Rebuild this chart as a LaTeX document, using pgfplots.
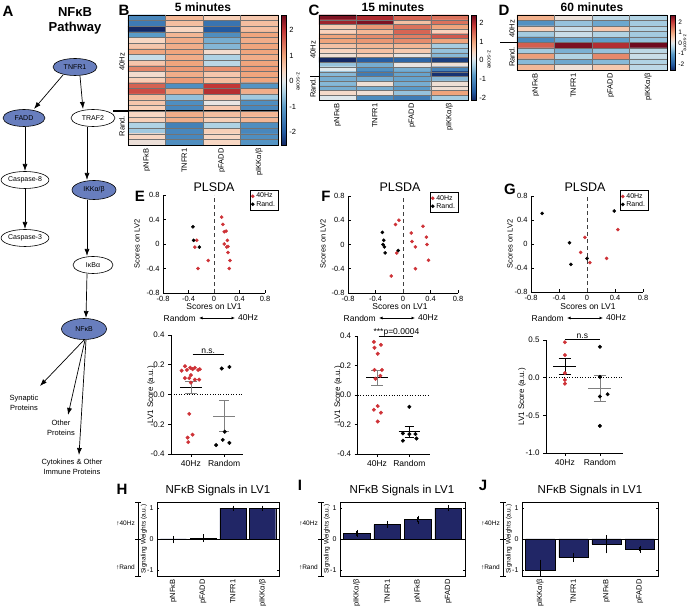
\documentclass[border=0pt]{standalone}
\usepackage{pgfplots}
\pgfplotsset{compat=1.18}
\usepackage{fontspec}
\setmainfont{Liberation Sans}
\usetikzlibrary{shapes.geometric,arrows.meta}
\definecolor{nodeblue}{RGB}{104,126,190}
\definecolor{barnavy}{RGB}{33,38,102}
\definecolor{ptred}{RGB}{206,50,55}
\newcommand{\fs}[1]{\fontsize{#1}{#1}\selectfont}
\pgfplotsset{
  colormap={rdbu}{[1cm] rgb255(0cm)=(20,40,100) rgb255(5cm)=(35,90,160) rgb255(15cm)=(90,155,200) rgb255(21cm)=(175,210,228) rgb255(25cm)=(225,232,236) rgb255(29cm)=(248,215,195) rgb255(35cm)=(240,165,125) rgb255(45cm)=(195,55,55) rgb255(51cm)=(110,10,30)},
  every axis/.append style={scale only axis, /pgf/number format/assume math mode=true, tick label style={font=\fs{7.5}}},
  heat/.style={xmin=-0.5, xmax=3.5, y dir=reverse, axis on top, clip=false,
    axis line style={line width=0.9pt},
    xtick={0,1,2,3}, xticklabels={pNFκB,TNFR1,pFADD,pIKKα/β},
    xticklabel style={rotate=90, anchor=east, font=\fs{7.5}},
    xtick style={draw=none}, ytick style={draw=none}, yticklabel=\empty,
    ymajorgrids, extra x ticks={0.5,1.5,2.5}, extra x tick labels={},
    extra x tick style={grid=major, tick style={draw=none}},
    grid style={black!55, line width=0.3pt},
    colorbar,
    colorbar style={width=4.5pt, xshift=-6pt,
      ytick={-2,-1,0,1,2}, yticklabel style={font=\fs{7.5}}, ytick style={draw=none},
      axis line style={line width=0.4pt}}},
  pls/.style={xmin=-0.8, xmax=0.8, ymin=-0.8, ymax=0.8, axis x line*=bottom, axis y line*=left,
    axis line style={-, line width=0.6pt}, tick align=inside, major tick length=2.5pt, tick style={black, line width=0.5pt},
    xtick={-0.8,-0.4,0,0.4,0.8}, ytick={-0.8,-0.4,0,0.4,0.8}, clip=false,
    legend style={font=\fs{7}, inner sep=0.8pt, row sep=-2.5pt, draw=black, line width=0.4pt, legend cell align=left}},
  dotax/.style={axis x line*=bottom, axis y line*=left, tick align=outside, major tick length=3pt,
    axis line style={-, line width=0.9pt}, tick style={black, line width=0.8pt},
    xtick={0,1}, xticklabels={40Hz,Random}, xticklabel style={font=\fs{8.5}}, yticklabel style={font=\fs{8}},
    /pgf/number format/fixed, /pgf/number format/fixed zerofill, /pgf/number format/precision=1, clip=false},
  barax/.style={ymin=-1.2, ymax=1.2, xmin=-0.55, xmax=3.55, ytick={-1,0,1}, xtick={0,1,2,3},
    xticklabel style={rotate=90, anchor=east, font=\fs{7.5}}, yticklabel style={font=\fs{7}},
    xtick style={draw=none}, tick align=inside, major tick length=2pt, ytick style={black, line width=0.5pt},
    axis line style={line width=0.9pt}, bar width=0.88, height=74pt},
}
\begin{document}
\begin{tikzpicture}
\useasboundingbox (0,0) rectangle (688pt,610pt);

% ---------------- B heatmap (5 minutes)
\begin{axis}[heat, at={(128pt,465pt)}, anchor=south west, width=150pt, height=130pt,
  ymin=-0.5, ymax=22.5, ytick={0.5,1.5,...,21.5}, point meta min=-2.5, point meta max=2.6]
\addplot[matrix plot, mesh/cols=4, point meta=explicit] table[meta=c, row sep=\\] {
x y c\\
0 0 -1.3\\1 0 0.8\\2 0 0.5\\3 0 0.6\\
0 1 -1.5\\1 1 0.7\\2 1 -1.6\\3 1 0.7\\
0 2 -2.5\\1 2 0.4\\2 2 -2.0\\3 2 0.7\\
0 3 -1.0\\1 3 0.8\\2 3 -1.2\\3 3 1.0\\
0 4 0.4\\1 4 0.9\\2 4 -0.8\\3 4 0.9\\
0 5 0.6\\1 5 0.9\\2 5 -0.7\\3 5 1.0\\
0 6 1.0\\1 6 1.0\\2 6 0.3\\3 6 1.0\\
0 7 -0.2\\1 7 0.9\\2 7 -0.4\\3 7 0.9\\
0 8 0.6\\1 8 1.0\\2 8 -0.3\\3 8 1.0\\
0 9 1.3\\1 9 1.1\\2 9 1.2\\3 9 1.1\\
0 10 0.3\\1 10 0.9\\2 10 0.6\\3 10 1.0\\
0 11 0.5\\1 11 1.1\\2 11 0.7\\3 11 1.0\\
0 12 1.6\\1 12 -1.2\\2 12 2.0\\3 12 -1.1\\
0 13 1.8\\1 13 1.0\\2 13 2.1\\3 13 0.9\\
0 14 0.7\\1 14 -0.6\\2 14 0.6\\3 14 -0.5\\
0 15 0.6\\1 15 -1.2\\2 15 0.1\\3 15 -1.2\\
0 16 0.5\\1 16 -1.3\\2 16 0.6\\3 16 -1.3\\
0 17 0.4\\1 17 0.9\\2 17 0.7\\3 17 0.8\\
0 18 0.5\\1 18 0.9\\2 18 0.5\\3 18 0.8\\
0 19 -0.4\\1 19 -1.4\\2 19 -0.4\\3 19 -1.2\\
0 20 -0.5\\1 20 -1.3\\2 20 0.5\\3 20 -1.3\\
0 21 0.4\\1 21 -1.3\\2 21 0.4\\3 21 -1.2\\
0 22 0.2\\1 22 -1.2\\2 22 0.4\\3 22 -1.1\\
};
\draw[line width=1.6pt] (axis cs:-0.9,16.5) -- (axis cs:3.5,16.5);
\end{axis}

% ---------------- C heatmap (15 minutes)
\begin{axis}[heat, at={(319pt,510pt)}, anchor=south west, width=149pt, height=85pt,
  ymin=-0.5, ymax=17.5, ytick={0.5,1.5,...,16.5}, point meta min=-2.1, point meta max=2.4]
\addplot[matrix plot, mesh/cols=4, point meta=explicit] table[meta=c, row sep=\\] {
x y c\\
0 0 2.3\\1 0 2.0\\2 0 1.5\\3 0 1.4\\
0 1 2.1\\1 1 2.3\\2 1 0.7\\3 1 1.4\\
0 2 0.6\\1 2 1.1\\2 2 1.4\\3 2 1.0\\
0 3 0.5\\1 3 0.8\\2 3 1.5\\3 3 0.5\\
0 4 1.0\\1 4 1.2\\2 4 1.3\\3 4 1.6\\
0 5 1.0\\1 5 1.1\\2 5 1.2\\3 5 1.0\\
0 6 0.7\\1 6 0.8\\2 6 0.8\\3 6 -0.3\\
0 7 0.5\\1 7 0.7\\2 7 0.6\\3 7 -0.4\\
0 8 0.3\\1 8 0.5\\2 8 0.2\\3 8 -0.5\\
0 9 -2.2\\1 9 -1.6\\2 9 -1.5\\3 9 -1.9\\
0 10 -0.4\\1 10 -0.6\\2 10 0.2\\3 10 0.3\\
0 11 0.1\\1 11 -0.9\\2 11 -0.6\\3 11 -1.1\\
0 12 -0.5\\1 12 -1.2\\2 12 -0.7\\3 12 -2.0\\
0 13 -0.6\\1 13 -0.6\\2 13 -0.7\\3 13 -0.5\\
0 14 -0.5\\1 14 0.3\\2 14 -0.6\\3 14 0.3\\
0 15 -0.6\\1 15 -0.6\\2 15 -0.8\\3 15 0.3\\
0 16 0.4\\1 16 0.3\\2 16 -0.4\\3 16 1.0\\
0 17 0.1\\1 17 -1.0\\2 17 -1.2\\3 17 -0.3\\
};
\draw[line width=1.6pt] (axis cs:-0.74,12.5) -- (axis cs:3.5,12.5);
\end{axis}

% ---------------- D heatmap (60 minutes)
\begin{axis}[heat, at={(517pt,540pt)}, anchor=south west, width=150pt, height=55pt,
  ymin=-0.5, ymax=9.5, ytick={0.5,1.5,...,8.5}, point meta min=-2.6, point meta max=2.7,
  colorbar style={yticklabel style={font=\fs{6.5}}}]
\addplot[matrix plot, mesh/cols=4, point meta=explicit] table[meta=c, row sep=\\] {
x y c\\
0 0 0.9\\1 0 0.2\\2 0 -0.3\\3 0 -0.4\\
0 1 -1.2\\1 1 -0.6\\2 1 -0.9\\3 1 -0.5\\
0 2 0.5\\1 2 -0.2\\2 2 0.6\\3 2 -0.4\\
0 3 -0.5\\1 3 -0.2\\2 3 -0.4\\3 3 -0.5\\
0 4 -1.3\\1 4 -0.9\\2 4 -1.0\\3 4 -0.6\\
0 5 1.7\\1 5 2.6\\2 5 2.2\\3 5 2.7\\
0 6 -0.5\\1 6 -0.8\\2 6 -0.6\\3 6 -0.3\\
0 7 1.1\\1 7 -0.4\\2 7 1.3\\3 7 -0.2\\
0 8 -0.7\\1 8 -0.9\\2 8 -0.7\\3 8 -0.4\\
0 9 0.8\\1 9 0.2\\2 9 0.6\\3 9 -0.3\\
};
\draw[line width=1.6pt] (axis cs:-0.95,4.5) -- (axis cs:3.5,4.5);
\end{axis}

% ---------------- E scatter
\begin{axis}[pls, at={(163pt,317pt)}, anchor=south west, width=102pt, height=98pt,
  legend style={at={(1.127,1.05)}, anchor=north east},
  legend image code/.code={\draw[mark repeat=2,mark phase=2,#1] plot coordinates {(0cm,0cm)(0.09cm,0cm)(0.18cm,0cm)};}]
\addplot[ptred, only marks, mark=*, mark size=1.6pt] coordinates {(0.12,0.44)(0.14,0.32)(0.16,0.20)(0.19,0.21)(0.21,0.06)(0.16,0.0)(0.22,-0.04)(0.22,-0.14)(0.25,-0.27)(0.24,-0.40)(-0.09,-0.27)(-0.25,-0.40)(-0.27,0.06)(-0.30,-0.05)(0.2,-0.05)};
\addlegendentry{40Hz}
\addplot[black, only marks, mark=*, mark size=1.6pt] coordinates {(-0.33,0.28)(-0.32,0.06)(-0.23,-0.05)};
\addlegendentry{Rand.}
\addplot[black!75, line width=0.9pt, dash pattern=on 4pt off 3pt, forget plot] coordinates {(0,-0.8)(0,0.8)};
\end{axis}

% ---------------- F scatter
\begin{axis}[pls, at={(348pt,317pt)}, anchor=south west, width=110pt, height=97pt,
  legend style={at={(1.0,1.04)}, anchor=north east},
  legend image code/.code={\draw[mark repeat=2,mark phase=2,#1] plot coordinates {(0cm,0cm)(0.09cm,0cm)(0.18cm,0cm)};}]
\addplot[ptred, only marks, mark=*, mark size=1.6pt] coordinates {(-0.06,0.40)(-0.11,0.33)(0.29,0.30)(0.12,0.19)(0.34,0.12)(0.13,0.05)(0.18,-0.04)(0.35,0.0)(-0.09,-0.14)(0.37,-0.26)(0.18,-0.40)(-0.17,-0.52)};
\addlegendentry{40Hz}
\addplot[black, only marks, mark=*, mark size=1.6pt] coordinates {(-0.30,0.20)(-0.28,0.07)(-0.29,0.0)(-0.27,-0.04)(-0.26,-0.14)(-0.07,-0.10)};
\addlegendentry{Rand.}
\addplot[black!75, line width=0.9pt, dash pattern=on 4pt off 3pt, forget plot] coordinates {(0,-0.8)(0,0.8)};
\end{axis}

% ---------------- G scatter
\begin{axis}[pls, at={(531pt,318pt)}, anchor=south west, width=112pt, height=96pt,
  legend style={at={(1.045,1.06)}, anchor=north east},
  legend image code/.code={\draw[mark repeat=2,mark phase=2,#1] plot coordinates {(0cm,0cm)(0.09cm,0cm)(0.18cm,0cm)};}]
\addplot[ptred, only marks, mark=*, mark size=1.6pt] coordinates {(-0.03,0.11)(0.44,0.24)(-0.09,-0.14)(0.04,-0.31)(0.28,-0.24)};
\addlegendentry{40Hz}
\addplot[black, only marks, mark=*, mark size=1.6pt] coordinates {(-0.64,0.51)(0.39,0.55)(-0.25,0.02)(0.0,-0.24)(-0.23,-0.34)};
\addlegendentry{Rand.}
\addplot[black!75, line width=0.9pt, dash pattern=on 4pt off 3pt, forget plot] coordinates {(0,-0.8)(0,0.8)};
\end{axis}

% ---------------- E dot plot
\begin{axis}[dotax, at={(171pt,156pt)}, anchor=south west, width=72pt, height=119pt,
  xmin=-0.6, xmax=1.57, ymin=-0.4, ymax=0.4, ytick={-0.4,-0.2,0,0.2,0.4}]
\addplot[black, dotted, line width=0.6pt] coordinates {(-0.6,0)(1.57,0)};
\addplot[ptred, only marks, mark=*, mark size=1.8pt] coordinates {(-0.18,0.19)(-0.02,0.18)(0.12,0.18)(0.27,0.17)(-0.28,0.16)(-0.12,0.165)(0.22,0.165)(0.05,0.17)(0.0,0.13)(-0.18,0.11)(-0.05,0.11)(0.12,0.10)(0.25,0.10)(0.0,0.08)(-0.05,-0.13)(-0.1,-0.29)(0.05,-0.27)(-0.08,-0.32)};
\addplot[black, only marks, mark=*, mark size=1.8pt] coordinates {(0.93,0.175)(1.16,0.185)(1.02,-0.25)(0.96,-0.305)(0.76,-0.34)(1.16,-0.325)};
\addplot[black, line width=0.9pt] coordinates {(-0.33,0.05)(0.33,0.05)};
\addplot[gray, line width=0.7pt] coordinates {(-0.18,0.09)(0.18,0.09)};
\addplot[gray, line width=0.7pt] coordinates {(-0.18,0.01)(0.18,0.01)};
\addplot[gray, line width=0.7pt] coordinates {(0,0.01)(0,0.09)};
\addplot[gray, line width=0.9pt] coordinates {(0.67,-0.145)(1.33,-0.145)};
\addplot[gray, line width=0.7pt] coordinates {(0.85,-0.04)(1.15,-0.04)};
\addplot[gray, line width=0.7pt] coordinates {(0.85,-0.25)(1.15,-0.25)};
\addplot[gray, line width=0.7pt] coordinates {(1,-0.04)(1,-0.25)};
\draw[line width=0.6pt] (axis cs:0.05,0.27) -- (axis cs:1.0,0.27);
\node[anchor=south, font=\fs{8.5}, inner sep=1pt] at (axis cs:0.52,0.27) {n.s.};
\end{axis}

% ---------------- F dot plot
\begin{axis}[dotax, at={(357.7pt,156pt)}, anchor=south west, width=72.3pt, height=118pt,
  xmin=-0.6, xmax=1.64, ymin=-0.4, ymax=0.4, ytick={-0.4,-0.2,0,0.2,0.4}]
\addplot[black, dotted, line width=0.6pt] coordinates {(-0.6,0)(1.64,0)};
\addplot[ptred, only marks, mark=*, mark size=1.8pt] coordinates {(-0.1,0.36)(0.12,0.34)(-0.08,0.32)(0.02,0.28)(-0.08,0.17)(0.15,0.17)(0.1,0.13)(-0.05,0.11)(0.02,-0.075)(-0.1,-0.10)(0.12,-0.12)(0.02,-0.18)};
\addplot[black, only marks, mark=*, mark size=1.8pt] coordinates {(1.0,-0.08)(0.8,-0.26)(1.0,-0.265)(1.19,-0.265)(0.8,-0.31)(1.22,-0.295)};
\addplot[black, line width=0.9pt] coordinates {(-0.33,0.117)(0.33,0.117)};
\addplot[gray, line width=0.7pt] coordinates {(-0.18,0.17)(0.18,0.17)};
\addplot[gray, line width=0.7pt] coordinates {(-0.18,0.065)(0.18,0.065)};
\addplot[gray, line width=0.7pt] coordinates {(0,0.065)(0,0.17)};
\addplot[black, line width=0.9pt] coordinates {(0.67,-0.249)(1.33,-0.249)};
\addplot[black, line width=0.7pt] coordinates {(0.85,-0.215)(1.15,-0.215)};
\addplot[black, line width=0.7pt] coordinates {(0.85,-0.285)(1.15,-0.285)};
\addplot[black, line width=0.7pt] coordinates {(1,-0.215)(1,-0.285)};
\draw[line width=0.6pt] (axis cs:0.05,0.395) -- (axis cs:1.1,0.395);
\node[anchor=south, font=\fs{8.5}, inner sep=0.5pt] at (axis cs:0.6,0.395) {***p=0.0004};
\end{axis}

% ---------------- G dot plot
\begin{axis}[dotax, at={(546pt,157pt)}, anchor=south west, width=77pt, height=113pt,
  xmin=-0.54, xmax=1.66, ymin=-1, ymax=0.5, ytick={-1,-0.5,0,0.5}]
\addplot[black, dotted, line width=0.6pt] coordinates {(-0.54,0)(1.66,0)};
\addplot[ptred, only marks, mark=*, mark size=1.8pt] coordinates {(0,0.47)(0,0.30)(0,0.06)(0,-0.03)(0,-0.08)};
\addplot[black, only marks, mark=*, mark size=1.8pt] coordinates {(1,0.41)(1,0.01)(1,-0.25)(1.22,-0.22)(1,-0.64)};
\addplot[black, line width=0.9pt] coordinates {(-0.33,0.15)(0.33,0.15)};
\addplot[black, line width=0.7pt] coordinates {(-0.18,0.255)(0.18,0.255)};
\addplot[black, line width=0.7pt] coordinates {(-0.18,0.046)(0.18,0.046)};
\addplot[black, line width=0.7pt] coordinates {(0,0.046)(0,0.255)};
\addplot[gray, line width=0.9pt] coordinates {(0.67,-0.138)(1.33,-0.138)};
\addplot[gray, line width=0.7pt] coordinates {(0.82,0.035)(1.18,0.035)};
\addplot[gray, line width=0.7pt] coordinates {(0.82,-0.31)(1.18,-0.31)};
\addplot[gray, line width=0.7pt] coordinates {(1,0.035)(1,-0.31)};
\draw[line width=0.6pt] (axis cs:0,0.505) -- (axis cs:1,0.505);
\node[anchor=south, font=\fs{8.5}, inner sep=1pt] at (axis cs:0.5,0.505) {n.s};
\end{axis}

% ---------------- H bars
\begin{axis}[barax, at={(157pt,34pt)}, anchor=south west, width=122pt,
  xticklabels={pNFκB,pFADD,TNFR1,pIKKα/β}]
\addplot[ybar, fill=barnavy, draw=black, line width=0.4pt, error bars/.cd, y dir=both, y explicit,
  error bar style={black, line width=0.6pt}, error mark options={black, mark size=1.5pt}]
  table[x=x, y=y, y error=e, row sep=\\] {x y e\\ 0 -0.02 0.07\\ 1 0.03 0.08\\ 2 1.0 0.03\\ 3 1.0 0.03\\};
\draw[line width=0.6pt] (axis cs:-0.55,0) -- (axis cs:3.55,0);
\end{axis}

% ---------------- I bars
\begin{axis}[barax, at={(340pt,34pt)}, anchor=south west, width=125pt,
  xticklabels={pIKKα/β,TNFR1,pNFκB,pFADD}]
\addplot[ybar, fill=barnavy, draw=black, line width=0.4pt, error bars/.cd, y dir=both, y explicit,
  error bar style={black, line width=0.6pt}, error mark options={black, mark size=1.5pt}]
  table[x=x, y=y, y error=e, row sep=\\] {x y e\\ 0 0.18 0.07\\ 1 0.47 0.07\\ 2 0.63 0.08\\ 3 1.0 0.05\\};
\draw[line width=0.6pt] (axis cs:-0.55,0) -- (axis cs:3.55,0);
\end{axis}

% ---------------- J bars
\begin{axis}[barax, at={(522pt,34pt)}, anchor=south west, width=136pt,
  xticklabels={pIKKα/β,TNFR1,pNFκB,pFADD}]
\addplot[ybar, fill=barnavy, draw=black, line width=0.4pt, error bars/.cd, y dir=both, y explicit,
  error bar style={black, line width=0.6pt}, error mark options={black, mark size=1.5pt}]
  table[x=x, y=y, y error=e, row sep=\\] {x y e\\ 0 -1.0 0.28\\ 1 -0.6 0.1\\ 2 -0.17 0.25\\ 3 -0.33 0.07\\};
\draw[line width=0.6pt] (axis cs:-0.55,0) -- (axis cs:3.55,0);
\end{axis}

% ---------------- annotations in image coordinates
\begin{scope}[x=1pt, y=-1pt, yshift=610pt]
\tikzset{pn/.style={ellipse, draw=black, line width=0.6pt, minimum width=44pt, minimum height=17pt, inner sep=0pt, font=\fs{7}},
  ar/.style={-{Latex[length=7pt,width=5pt]}, line width=0.7pt},
  lab/.style={font=\bfseries\fs{15}},
  dar/.style={{Latex[length=3.5pt,width=3pt]}-{Latex[length=3.5pt,width=3pt]}, line width=0.8pt}}
% pathway
\node[lab] at (8,11) {A};
\node[font=\bfseries\fontsize{13}{14.5}\selectfont, align=center] at (75,21) {NFκB\\Pathway};
\node[pn, fill=nodeblue] (tnfr) at (75,67) {TNFR1};
\node[pn, fill=nodeblue, minimum width=42pt] at (24,118) {FADD};
\node[pn, fill=white] at (93,118) {TRAF2};
\node[pn, fill=white, minimum width=46pt] at (25,180) {Caspase-8};
\node[pn, fill=nodeblue, minimum height=19pt] at (94,190) {IKKα/β};
\node[pn, fill=white, minimum width=46pt] at (25,238) {Caspase-3};
\node[pn, fill=white, minimum width=40pt] at (93,265) {IκBα};
\node[pn, fill=nodeblue, minimum width=45pt, minimum height=21pt] at (84,329) {NFκB};
\draw[ar] (63,75) -- (34,109);
\draw[ar] (80,76) -- (83,109);
\draw[ar] (25,127) -- (25,171);
\draw[ar] (25,189) -- (25,229);
\draw[ar] (87,127) -- (87,180);
\draw[ar] (87,200) -- (87,256);
\draw[ar] (87,274) -- (86,318);
\draw[ar] (84,340) -- (40,386);
\draw[ar] (85,340) -- (68,415);
\draw[ar] (86,340) -- (79,455);
\node[align=center, font=\fontsize{7.5}{10}\selectfont] at (24,403) {Synaptic\\Proteins};
\node[align=center, font=\fontsize{7.5}{10}\selectfont] at (61,428) {Other\\Proteins};
\node[align=center, font=\fontsize{7.5}{10}\selectfont] at (72,467) {Cytokines \& Other\\Immune Proteins};
% heatmap labels
\node[lab] at (124,10) {B};
\node[lab] at (314,10) {C};
\node[lab] at (504,10) {D};
\node[font=\bfseries\fs{12}] at (203,7) {5 minutes};
\node[font=\bfseries\fs{12}] at (393,7) {15 minutes};
\node[font=\bfseries\fs{12}] at (592,7) {60 minutes};
\node[rotate=90, font=\fs{7.5}] at (122,62) {40Hz};
\node[rotate=90, font=\fs{7.5}] at (122,126) {Rand.};
\node[rotate=90, font=\fs{7.5}] at (313,50) {40Hz};
\node[rotate=90, font=\fs{7.5}] at (313,88) {Rand.};
\node[rotate=90, font=\fs{7.5}] at (512,29) {40Hz};
\node[rotate=90, font=\fs{7.5}] at (512,57) {Rand.};
\node[rotate=-90, font=\fs{5.5}] at (298,82) {z-score};
\node[rotate=-90, font=\fs{5.5}] at (489,60) {z-score};
\node[rotate=-90, font=\fs{5}] at (685,43) {z-score};
% scatter labels
\node[lab] at (140,196) {E};
\node[lab] at (326,196) {F};
\node[lab] at (510,189) {G};
\node[font=\fs{12.5}] at (214,187) {PLSDA};
\node[font=\fs{12.5}] at (400,187) {PLSDA};
\node[font=\fs{12.5}] at (585,187) {PLSDA};
\node[rotate=90, font=\fs{7.5}] at (137,244) {Scores on LV2};
\node[rotate=90, font=\fs{7.5}] at (323,244) {Scores on LV2};
\node[rotate=90, font=\fs{7.5}] at (510,244) {Scores on LV2};
\node[font=\fs{8.5}] at (214,307) {Scores on LV1};
\node[font=\fs{8.5}] at (400,307) {Scores on LV1};
\node[font=\fs{8.5}] at (588,307) {Scores on LV1};
\node[anchor=east, font=\fs{8.5}, inner sep=0pt] at (196,318) {Random};
\draw[dar] (199,318) -- (235,318);
\node[anchor=west, font=\fs{8.5}, inner sep=0pt] at (238,318) {40Hz};
\node[anchor=east, font=\fs{8.5}, inner sep=0pt] at (376,318) {Random};
\draw[dar] (379,318) -- (415,318);
\node[anchor=west, font=\fs{8.5}, inner sep=0pt] at (418,318) {40Hz};
\node[anchor=east, font=\fs{8.5}, inner sep=0pt] at (564,318) {Random};
\draw[dar] (567,318) -- (603,318);
\node[anchor=west, font=\fs{8.5}, inner sep=0pt] at (606,318) {40Hz};
\node[rotate=90, font=\fs{8}] at (151,395) {LV1 Score (a.u.)};
\node[rotate=90, font=\fs{8}] at (338,395) {LV1 Score (a.u.)};
\node[rotate=90, font=\fs{8}] at (522,397) {LV1 Score (a.u.)};
% bar labels
\node[lab] at (122,489) {H};
\node[lab] at (300,485) {I};
\node[lab] at (483,485) {J};
\node[font=\fs{11.5}] at (218,491) {NFκB Signals in LV1};
\node[font=\fs{11.5}] at (402,491) {NFκB Signals in LV1};
\node[font=\fs{11.5}] at (590,491) {NFκB Signals in LV1};
\foreach \bx in {157,340,522} {
  \draw[line width=0.6pt] (\bx-19,502) -- (\bx-19,576);
  \draw[line width=0.6pt] (\bx-22,502) -- (\bx-16,502);
  \draw[line width=0.6pt] (\bx-22,539) -- (\bx-16,539);
  \draw[line width=0.6pt] (\bx-22,576) -- (\bx-16,576);
  \node[anchor=east, font=\fs{6.5}, inner sep=0pt] at (\bx-22,523) {↑40Hz};
  \node[anchor=east, font=\fs{6.5}, inner sep=0pt] at (\bx-22,567) {↑Rand};
  \node[rotate=90, font=\fs{6.5}] at (\bx-13,539) {Signaling Weights (a.u.)};
}
\end{scope}
\end{tikzpicture}
\end{document}
